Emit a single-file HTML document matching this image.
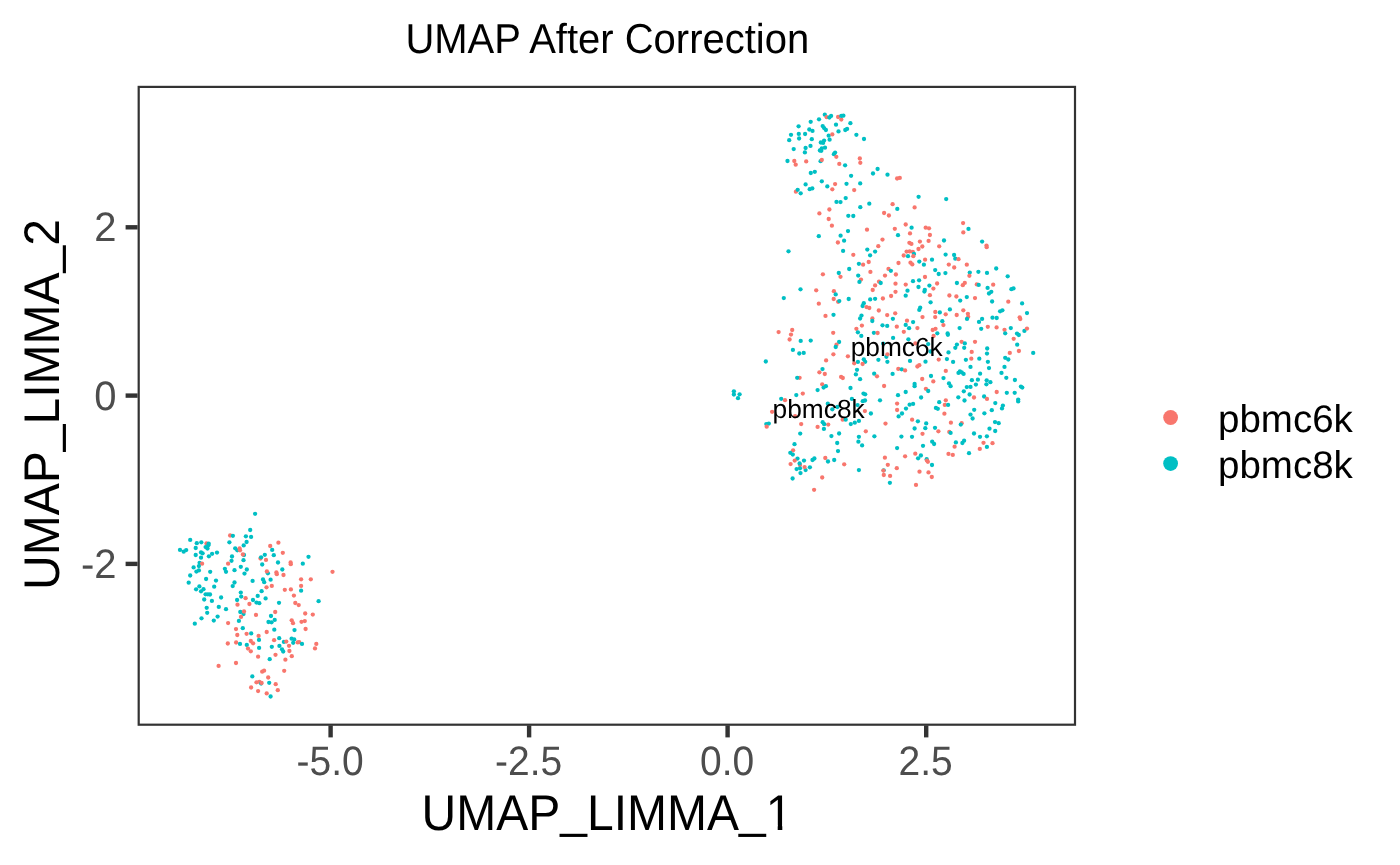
<!DOCTYPE html>
<html><head><meta charset="utf-8"><title>UMAP After Correction</title>
<style>
html,body{margin:0;padding:0;background:#fff;width:1400px;height:865px;overflow:hidden}
svg{display:block;will-change:transform}
text{font-family:"Liberation Sans",Arial,Helvetica,sans-serif}
.tk{fill:#4D4D4D;font-size:40px}
svg{text-rendering:geometricPrecision}
</style></head><body>
<svg width="1400" height="865" viewBox="0 0 1400 865">
<rect width="1400" height="865" fill="#fff"/>
<text transform="translate(607.3,52.9) scale(1,1.044)" font-size="40" text-anchor="middle" fill="#000">UMAP After Correction</text>
<g><circle cx="824.8" cy="114.7" r="2.15" fill="#00BFC4"/><circle cx="826.7" cy="117.2" r="2.15" fill="#F8766D"/><circle cx="829.4" cy="117.5" r="2.15" fill="#00BFC4"/><circle cx="819.0" cy="119.3" r="2.15" fill="#00BFC4"/><circle cx="810.7" cy="121.8" r="2.15" fill="#00BFC4"/><circle cx="798.6" cy="126.3" r="2.15" fill="#00BFC4"/><circle cx="822.7" cy="126.1" r="2.15" fill="#00BFC4"/><circle cx="824.1" cy="128.1" r="2.15" fill="#00BFC4"/><circle cx="825.9" cy="130.0" r="2.15" fill="#00BFC4"/><circle cx="809.3" cy="129.5" r="2.15" fill="#00BFC4"/><circle cx="812.5" cy="130.9" r="2.15" fill="#00BFC4"/><circle cx="791.0" cy="134.8" r="2.15" fill="#00BFC4"/><circle cx="798.8" cy="133.9" r="2.15" fill="#00BFC4"/><circle cx="805.1" cy="134.0" r="2.15" fill="#00BFC4"/><circle cx="828.7" cy="135.7" r="2.15" fill="#00BFC4"/><circle cx="789.2" cy="140.2" r="2.15" fill="#00BFC4"/><circle cx="799.1" cy="138.5" r="2.15" fill="#00BFC4"/><circle cx="811.8" cy="139.2" r="2.15" fill="#00BFC4"/><circle cx="829.6" cy="139.7" r="2.15" fill="#00BFC4"/><circle cx="824.1" cy="140.6" r="2.15" fill="#00BFC4"/><circle cx="820.8" cy="142.5" r="2.15" fill="#00BFC4"/><circle cx="823.1" cy="142.9" r="2.15" fill="#00BFC4"/><circle cx="810.5" cy="145.9" r="2.15" fill="#00BFC4"/><circle cx="793.7" cy="149.1" r="2.15" fill="#00BFC4"/><circle cx="805.6" cy="148.0" r="2.15" fill="#00BFC4"/><circle cx="804.9" cy="152.4" r="2.15" fill="#00BFC4"/><circle cx="825.0" cy="147.7" r="2.15" fill="#00BFC4"/><circle cx="821.8" cy="148.3" r="2.15" fill="#00BFC4"/><circle cx="819.9" cy="150.5" r="2.15" fill="#00BFC4"/><circle cx="821.3" cy="150.8" r="2.15" fill="#00BFC4"/><circle cx="787.5" cy="161.0" r="2.15" fill="#00BFC4"/><circle cx="794.3" cy="161.0" r="2.15" fill="#F8766D"/><circle cx="795.7" cy="164.7" r="2.15" fill="#F8766D"/><circle cx="806.2" cy="161.4" r="2.15" fill="#F8766D"/><circle cx="820.6" cy="161.2" r="2.15" fill="#00BFC4"/><circle cx="821.8" cy="160.0" r="2.15" fill="#F8766D"/><circle cx="810.8" cy="173.0" r="2.15" fill="#00BFC4"/><circle cx="814.8" cy="171.8" r="2.15" fill="#00BFC4"/><circle cx="821.8" cy="181.3" r="2.15" fill="#00BFC4"/><circle cx="805.6" cy="184.4" r="2.15" fill="#00BFC4"/><circle cx="831.1" cy="115.9" r="2.15" fill="#00BFC4"/><circle cx="838.1" cy="117.0" r="2.15" fill="#F8766D"/><circle cx="841.3" cy="119.6" r="2.15" fill="#F8766D"/><circle cx="841.3" cy="115.9" r="2.15" fill="#00BFC4"/><circle cx="843.4" cy="115.7" r="2.15" fill="#00BFC4"/><circle cx="850.4" cy="123.2" r="2.15" fill="#00BFC4"/><circle cx="836.0" cy="124.7" r="2.15" fill="#00BFC4"/><circle cx="838.5" cy="131.4" r="2.15" fill="#00BFC4"/><circle cx="845.3" cy="130.0" r="2.15" fill="#00BFC4"/><circle cx="847.1" cy="128.9" r="2.15" fill="#00BFC4"/><circle cx="832.3" cy="134.4" r="2.15" fill="#F8766D"/><circle cx="856.4" cy="134.8" r="2.15" fill="#00BFC4"/><circle cx="864.0" cy="139.0" r="2.15" fill="#00BFC4"/><circle cx="835.1" cy="152.6" r="2.15" fill="#00BFC4"/><circle cx="833.9" cy="154.2" r="2.15" fill="#00BFC4"/><circle cx="836.3" cy="156.8" r="2.15" fill="#F8766D"/><circle cx="859.8" cy="158.5" r="2.15" fill="#F8766D"/><circle cx="860.3" cy="162.8" r="2.15" fill="#F8766D"/><circle cx="839.3" cy="163.9" r="2.15" fill="#F8766D"/><circle cx="845.1" cy="165.3" r="2.15" fill="#00BFC4"/><circle cx="851.1" cy="175.8" r="2.15" fill="#00BFC4"/><circle cx="873.0" cy="173.5" r="2.15" fill="#00BFC4"/><circle cx="877.6" cy="169.0" r="2.15" fill="#00BFC4"/><circle cx="887.5" cy="174.7" r="2.15" fill="#00BFC4"/><circle cx="897.1" cy="178.5" r="2.15" fill="#F8766D"/><circle cx="899.8" cy="177.9" r="2.15" fill="#F8766D"/><circle cx="835.1" cy="184.1" r="2.15" fill="#F8766D"/><circle cx="846.5" cy="183.8" r="2.15" fill="#00BFC4"/><circle cx="860.2" cy="183.4" r="2.15" fill="#00BFC4"/><circle cx="827.3" cy="186.4" r="2.15" fill="#00BFC4"/><circle cx="795.9" cy="191.7" r="2.15" fill="#F8766D"/><circle cx="797.7" cy="189.8" r="2.15" fill="#00BFC4"/><circle cx="800.7" cy="193.3" r="2.15" fill="#00BFC4"/><circle cx="809.7" cy="189.2" r="2.15" fill="#00BFC4"/><circle cx="812.3" cy="188.4" r="2.15" fill="#00BFC4"/><circle cx="819.4" cy="213.4" r="2.15" fill="#F8766D"/><circle cx="829.4" cy="209.5" r="2.15" fill="#F8766D"/><circle cx="828.7" cy="219.0" r="2.15" fill="#F8766D"/><circle cx="818.8" cy="236.2" r="2.15" fill="#00BFC4"/><circle cx="788.5" cy="251.3" r="2.15" fill="#00BFC4"/><circle cx="832.3" cy="189.3" r="2.15" fill="#F8766D"/><circle cx="854.2" cy="190.1" r="2.15" fill="#F8766D"/><circle cx="845.7" cy="198.1" r="2.15" fill="#00BFC4"/><circle cx="836.5" cy="201.9" r="2.15" fill="#00BFC4"/><circle cx="840.5" cy="202.1" r="2.15" fill="#00BFC4"/><circle cx="869.3" cy="203.7" r="2.15" fill="#00BFC4"/><circle cx="860.3" cy="207.2" r="2.15" fill="#00BFC4"/><circle cx="848.3" cy="215.8" r="2.15" fill="#00BFC4"/><circle cx="853.3" cy="216.0" r="2.15" fill="#00BFC4"/><circle cx="831.9" cy="225.7" r="2.15" fill="#F8766D"/><circle cx="892.6" cy="204.2" r="2.15" fill="#F8766D"/><circle cx="897.3" cy="208.9" r="2.15" fill="#00BFC4"/><circle cx="884.1" cy="213.0" r="2.15" fill="#F8766D"/><circle cx="888.9" cy="215.5" r="2.15" fill="#F8766D"/><circle cx="918.6" cy="196.8" r="2.15" fill="#00BFC4"/><circle cx="914.6" cy="207.4" r="2.15" fill="#F8766D"/><circle cx="905.7" cy="224.5" r="2.15" fill="#F8766D"/><circle cx="911.6" cy="227.7" r="2.15" fill="#00BFC4"/><circle cx="894.8" cy="228.8" r="2.15" fill="#F8766D"/><circle cx="867.0" cy="229.7" r="2.15" fill="#F8766D"/><circle cx="848.0" cy="231.1" r="2.15" fill="#00BFC4"/><circle cx="925.7" cy="227.7" r="2.15" fill="#F8766D"/><circle cx="929.0" cy="228.3" r="2.15" fill="#F8766D"/><circle cx="910.0" cy="233.4" r="2.15" fill="#F8766D"/><circle cx="898.0" cy="235.2" r="2.15" fill="#00BFC4"/><circle cx="929.9" cy="235.0" r="2.15" fill="#F8766D"/><circle cx="840.6" cy="235.7" r="2.15" fill="#00BFC4"/><circle cx="844.1" cy="240.7" r="2.15" fill="#00BFC4"/><circle cx="837.9" cy="242.5" r="2.15" fill="#F8766D"/><circle cx="882.5" cy="239.6" r="2.15" fill="#F8766D"/><circle cx="909.4" cy="242.8" r="2.15" fill="#F8766D"/><circle cx="911.4" cy="243.9" r="2.15" fill="#F8766D"/><circle cx="919.9" cy="241.6" r="2.15" fill="#F8766D"/><circle cx="928.6" cy="240.9" r="2.15" fill="#F8766D"/><circle cx="939.2" cy="246.3" r="2.15" fill="#F8766D"/><circle cx="878.3" cy="246.2" r="2.15" fill="#F8766D"/><circle cx="922.3" cy="246.5" r="2.15" fill="#F8766D"/><circle cx="918.5" cy="249.0" r="2.15" fill="#F8766D"/><circle cx="843.1" cy="250.9" r="2.15" fill="#00BFC4"/><circle cx="867.3" cy="249.6" r="2.15" fill="#00BFC4"/><circle cx="875.1" cy="251.6" r="2.15" fill="#00BFC4"/><circle cx="870.1" cy="255.3" r="2.15" fill="#00BFC4"/><circle cx="853.3" cy="254.8" r="2.15" fill="#F8766D"/><circle cx="906.6" cy="251.6" r="2.15" fill="#F8766D"/><circle cx="909.7" cy="251.4" r="2.15" fill="#F8766D"/><circle cx="912.8" cy="251.8" r="2.15" fill="#F8766D"/><circle cx="914.0" cy="253.9" r="2.15" fill="#00BFC4"/><circle cx="903.7" cy="255.5" r="2.15" fill="#F8766D"/><circle cx="908.0" cy="256.2" r="2.15" fill="#00BFC4"/><circle cx="913.3" cy="256.2" r="2.15" fill="#F8766D"/><circle cx="925.1" cy="259.7" r="2.15" fill="#F8766D"/><circle cx="932.0" cy="259.7" r="2.15" fill="#00BFC4"/><circle cx="919.3" cy="261.6" r="2.15" fill="#00BFC4"/><circle cx="868.7" cy="262.0" r="2.15" fill="#F8766D"/><circle cx="858.9" cy="263.8" r="2.15" fill="#00BFC4"/><circle cx="863.1" cy="264.7" r="2.15" fill="#F8766D"/><circle cx="898.5" cy="263.0" r="2.15" fill="#F8766D"/><circle cx="910.5" cy="262.7" r="2.15" fill="#F8766D"/><circle cx="912.3" cy="264.4" r="2.15" fill="#F8766D"/><circle cx="923.9" cy="264.7" r="2.15" fill="#00BFC4"/><circle cx="946.2" cy="199.1" r="2.15" fill="#00BFC4"/><circle cx="963.1" cy="223.1" r="2.15" fill="#F8766D"/><circle cx="968.5" cy="228.9" r="2.15" fill="#00BFC4"/><circle cx="963.3" cy="232.4" r="2.15" fill="#F8766D"/><circle cx="944.0" cy="240.5" r="2.15" fill="#00BFC4"/><circle cx="982.1" cy="241.6" r="2.15" fill="#00BFC4"/><circle cx="986.5" cy="245.6" r="2.15" fill="#F8766D"/><circle cx="986.7" cy="247.2" r="2.15" fill="#F8766D"/><circle cx="945.6" cy="254.6" r="2.15" fill="#00BFC4"/><circle cx="954.1" cy="255.0" r="2.15" fill="#00BFC4"/><circle cx="955.3" cy="258.7" r="2.15" fill="#00BFC4"/><circle cx="958.5" cy="259.2" r="2.15" fill="#F8766D"/><circle cx="948.8" cy="264.6" r="2.15" fill="#F8766D"/><circle cx="966.8" cy="264.7" r="2.15" fill="#F8766D"/><circle cx="822.9" cy="274.3" r="2.15" fill="#F8766D"/><circle cx="800.5" cy="289.3" r="2.15" fill="#00BFC4"/><circle cx="816.2" cy="290.3" r="2.15" fill="#F8766D"/><circle cx="783.8" cy="298.1" r="2.15" fill="#00BFC4"/><circle cx="818.8" cy="303.7" r="2.15" fill="#F8766D"/><circle cx="825.5" cy="315.9" r="2.15" fill="#F8766D"/><circle cx="792.2" cy="330.0" r="2.15" fill="#F8766D"/><circle cx="778.6" cy="332.1" r="2.15" fill="#F8766D"/><circle cx="791.0" cy="334.6" r="2.15" fill="#F8766D"/><circle cx="789.6" cy="339.5" r="2.15" fill="#F8766D"/><circle cx="800.7" cy="340.9" r="2.15" fill="#00BFC4"/><circle cx="810.7" cy="340.6" r="2.15" fill="#00BFC4"/><circle cx="849.2" cy="269.0" r="2.15" fill="#00BFC4"/><circle cx="838.8" cy="273.0" r="2.15" fill="#00BFC4"/><circle cx="840.5" cy="276.8" r="2.15" fill="#F8766D"/><circle cx="858.2" cy="275.6" r="2.15" fill="#00BFC4"/><circle cx="861.0" cy="279.6" r="2.15" fill="#F8766D"/><circle cx="859.4" cy="281.9" r="2.15" fill="#00BFC4"/><circle cx="870.4" cy="271.9" r="2.15" fill="#F8766D"/><circle cx="888.5" cy="268.9" r="2.15" fill="#F8766D"/><circle cx="890.9" cy="270.8" r="2.15" fill="#00BFC4"/><circle cx="895.9" cy="274.5" r="2.15" fill="#F8766D"/><circle cx="885.0" cy="275.6" r="2.15" fill="#F8766D"/><circle cx="925.0" cy="277.0" r="2.15" fill="#F8766D"/><circle cx="935.2" cy="270.1" r="2.15" fill="#00BFC4"/><circle cx="938.7" cy="274.0" r="2.15" fill="#00BFC4"/><circle cx="913.0" cy="281.2" r="2.15" fill="#00BFC4"/><circle cx="919.1" cy="280.3" r="2.15" fill="#00BFC4"/><circle cx="879.0" cy="281.7" r="2.15" fill="#F8766D"/><circle cx="880.7" cy="283.0" r="2.15" fill="#00BFC4"/><circle cx="875.1" cy="285.4" r="2.15" fill="#F8766D"/><circle cx="895.5" cy="283.7" r="2.15" fill="#F8766D"/><circle cx="905.7" cy="284.6" r="2.15" fill="#F8766D"/><circle cx="937.1" cy="283.5" r="2.15" fill="#F8766D"/><circle cx="918.5" cy="287.0" r="2.15" fill="#00BFC4"/><circle cx="929.4" cy="285.6" r="2.15" fill="#00BFC4"/><circle cx="933.4" cy="288.6" r="2.15" fill="#F8766D"/><circle cx="924.8" cy="289.8" r="2.15" fill="#00BFC4"/><circle cx="924.4" cy="291.6" r="2.15" fill="#00BFC4"/><circle cx="872.7" cy="290.0" r="2.15" fill="#F8766D"/><circle cx="833.9" cy="291.2" r="2.15" fill="#F8766D"/><circle cx="835.7" cy="294.4" r="2.15" fill="#00BFC4"/><circle cx="895.5" cy="291.8" r="2.15" fill="#F8766D"/><circle cx="907.5" cy="290.7" r="2.15" fill="#00BFC4"/><circle cx="905.7" cy="295.7" r="2.15" fill="#00BFC4"/><circle cx="929.9" cy="295.2" r="2.15" fill="#F8766D"/><circle cx="891.1" cy="296.0" r="2.15" fill="#F8766D"/><circle cx="833.7" cy="299.0" r="2.15" fill="#F8766D"/><circle cx="838.1" cy="301.8" r="2.15" fill="#F8766D"/><circle cx="839.3" cy="301.1" r="2.15" fill="#00BFC4"/><circle cx="848.7" cy="299.0" r="2.15" fill="#00BFC4"/><circle cx="870.2" cy="299.4" r="2.15" fill="#00BFC4"/><circle cx="875.1" cy="298.8" r="2.15" fill="#00BFC4"/><circle cx="882.9" cy="298.5" r="2.15" fill="#F8766D"/><circle cx="930.6" cy="302.3" r="2.15" fill="#00BFC4"/><circle cx="863.8" cy="303.2" r="2.15" fill="#00BFC4"/><circle cx="862.6" cy="306.0" r="2.15" fill="#00BFC4"/><circle cx="866.5" cy="307.1" r="2.15" fill="#F8766D"/><circle cx="869.3" cy="308.0" r="2.15" fill="#F8766D"/><circle cx="920.2" cy="307.7" r="2.15" fill="#00BFC4"/><circle cx="919.3" cy="309.9" r="2.15" fill="#00BFC4"/><circle cx="878.8" cy="310.5" r="2.15" fill="#F8766D"/><circle cx="833.5" cy="314.8" r="2.15" fill="#00BFC4"/><circle cx="861.5" cy="315.6" r="2.15" fill="#00BFC4"/><circle cx="860.1" cy="318.5" r="2.15" fill="#00BFC4"/><circle cx="895.2" cy="313.3" r="2.15" fill="#F8766D"/><circle cx="887.2" cy="315.1" r="2.15" fill="#F8766D"/><circle cx="935.3" cy="312.0" r="2.15" fill="#F8766D"/><circle cx="922.5" cy="317.1" r="2.15" fill="#F8766D"/><circle cx="935.2" cy="317.1" r="2.15" fill="#F8766D"/><circle cx="939.8" cy="312.4" r="2.15" fill="#00BFC4"/><circle cx="872.4" cy="318.5" r="2.15" fill="#F8766D"/><circle cx="872.3" cy="321.0" r="2.15" fill="#00BFC4"/><circle cx="892.9" cy="318.8" r="2.15" fill="#00BFC4"/><circle cx="907.0" cy="320.7" r="2.15" fill="#F8766D"/><circle cx="913.1" cy="322.1" r="2.15" fill="#00BFC4"/><circle cx="905.7" cy="324.9" r="2.15" fill="#00BFC4"/><circle cx="909.1" cy="328.2" r="2.15" fill="#00BFC4"/><circle cx="861.9" cy="325.6" r="2.15" fill="#F8766D"/><circle cx="882.5" cy="325.3" r="2.15" fill="#00BFC4"/><circle cx="887.2" cy="325.9" r="2.15" fill="#00BFC4"/><circle cx="896.8" cy="326.7" r="2.15" fill="#F8766D"/><circle cx="856.4" cy="328.8" r="2.15" fill="#F8766D"/><circle cx="917.4" cy="328.1" r="2.15" fill="#F8766D"/><circle cx="932.7" cy="330.0" r="2.15" fill="#F8766D"/><circle cx="935.5" cy="328.8" r="2.15" fill="#F8766D"/><circle cx="857.9" cy="332.3" r="2.15" fill="#00BFC4"/><circle cx="861.3" cy="335.9" r="2.15" fill="#00BFC4"/><circle cx="873.9" cy="332.8" r="2.15" fill="#00BFC4"/><circle cx="877.6" cy="333.0" r="2.15" fill="#F8766D"/><circle cx="833.2" cy="332.8" r="2.15" fill="#F8766D"/><circle cx="903.8" cy="331.8" r="2.15" fill="#F8766D"/><circle cx="937.3" cy="333.3" r="2.15" fill="#00BFC4"/><circle cx="933.6" cy="336.0" r="2.15" fill="#F8766D"/><circle cx="893.1" cy="337.9" r="2.15" fill="#00BFC4"/><circle cx="908.4" cy="339.3" r="2.15" fill="#00BFC4"/><circle cx="839.1" cy="342.0" r="2.15" fill="#00BFC4"/><circle cx="836.5" cy="344.7" r="2.15" fill="#F8766D"/><circle cx="883.2" cy="343.6" r="2.15" fill="#00BFC4"/><circle cx="915.3" cy="343.4" r="2.15" fill="#F8766D"/><circle cx="928.2" cy="344.1" r="2.15" fill="#00BFC4"/><circle cx="954.2" cy="267.5" r="2.15" fill="#F8766D"/><circle cx="945.4" cy="273.1" r="2.15" fill="#00BFC4"/><circle cx="969.8" cy="272.6" r="2.15" fill="#00BFC4"/><circle cx="969.4" cy="275.8" r="2.15" fill="#F8766D"/><circle cx="978.4" cy="271.8" r="2.15" fill="#00BFC4"/><circle cx="987.0" cy="272.9" r="2.15" fill="#00BFC4"/><circle cx="996.2" cy="268.5" r="2.15" fill="#00BFC4"/><circle cx="1007.7" cy="276.3" r="2.15" fill="#00BFC4"/><circle cx="956.9" cy="283.0" r="2.15" fill="#00BFC4"/><circle cx="964.8" cy="282.9" r="2.15" fill="#F8766D"/><circle cx="962.8" cy="285.2" r="2.15" fill="#F8766D"/><circle cx="976.8" cy="284.4" r="2.15" fill="#F8766D"/><circle cx="978.7" cy="284.9" r="2.15" fill="#00BFC4"/><circle cx="993.2" cy="284.7" r="2.15" fill="#F8766D"/><circle cx="987.6" cy="287.9" r="2.15" fill="#00BFC4"/><circle cx="991.3" cy="291.8" r="2.15" fill="#00BFC4"/><circle cx="989.0" cy="293.5" r="2.15" fill="#00BFC4"/><circle cx="1011.4" cy="289.2" r="2.15" fill="#00BFC4"/><circle cx="1013.5" cy="288.4" r="2.15" fill="#00BFC4"/><circle cx="949.4" cy="295.5" r="2.15" fill="#F8766D"/><circle cx="956.4" cy="296.5" r="2.15" fill="#F8766D"/><circle cx="966.8" cy="297.1" r="2.15" fill="#00BFC4"/><circle cx="960.2" cy="300.6" r="2.15" fill="#00BFC4"/><circle cx="975.0" cy="298.1" r="2.15" fill="#F8766D"/><circle cx="992.1" cy="301.5" r="2.15" fill="#00BFC4"/><circle cx="1008.3" cy="301.7" r="2.15" fill="#F8766D"/><circle cx="1022.1" cy="303.4" r="2.15" fill="#00BFC4"/><circle cx="949.9" cy="309.4" r="2.15" fill="#00BFC4"/><circle cx="945.7" cy="314.3" r="2.15" fill="#F8766D"/><circle cx="963.3" cy="310.3" r="2.15" fill="#F8766D"/><circle cx="956.7" cy="315.0" r="2.15" fill="#F8766D"/><circle cx="967.9" cy="313.8" r="2.15" fill="#F8766D"/><circle cx="968.2" cy="316.8" r="2.15" fill="#F8766D"/><circle cx="967.0" cy="318.9" r="2.15" fill="#00BFC4"/><circle cx="982.1" cy="318.9" r="2.15" fill="#00BFC4"/><circle cx="979.0" cy="321.9" r="2.15" fill="#00BFC4"/><circle cx="1000.1" cy="311.3" r="2.15" fill="#00BFC4"/><circle cx="1002.4" cy="310.3" r="2.15" fill="#00BFC4"/><circle cx="992.5" cy="317.7" r="2.15" fill="#00BFC4"/><circle cx="996.7" cy="318.0" r="2.15" fill="#00BFC4"/><circle cx="1019.7" cy="317.3" r="2.15" fill="#F8766D"/><circle cx="1020.3" cy="319.1" r="2.15" fill="#F8766D"/><circle cx="1027.0" cy="313.1" r="2.15" fill="#00BFC4"/><circle cx="942.3" cy="321.2" r="2.15" fill="#00BFC4"/><circle cx="943.4" cy="325.1" r="2.15" fill="#F8766D"/><circle cx="959.6" cy="328.1" r="2.15" fill="#00BFC4"/><circle cx="981.2" cy="328.8" r="2.15" fill="#00BFC4"/><circle cx="987.8" cy="326.8" r="2.15" fill="#F8766D"/><circle cx="996.6" cy="327.4" r="2.15" fill="#F8766D"/><circle cx="1004.5" cy="329.8" r="2.15" fill="#F8766D"/><circle cx="1005.2" cy="333.3" r="2.15" fill="#00BFC4"/><circle cx="1010.8" cy="328.1" r="2.15" fill="#00BFC4"/><circle cx="1024.4" cy="330.9" r="2.15" fill="#00BFC4"/><circle cx="1027.0" cy="328.6" r="2.15" fill="#F8766D"/><circle cx="1017.0" cy="333.6" r="2.15" fill="#00BFC4"/><circle cx="1018.8" cy="335.0" r="2.15" fill="#00BFC4"/><circle cx="1013.7" cy="338.8" r="2.15" fill="#F8766D"/><circle cx="947.6" cy="333.5" r="2.15" fill="#00BFC4"/><circle cx="947.9" cy="334.8" r="2.15" fill="#00BFC4"/><circle cx="961.6" cy="341.8" r="2.15" fill="#F8766D"/><circle cx="964.8" cy="343.4" r="2.15" fill="#00BFC4"/><circle cx="975.0" cy="341.8" r="2.15" fill="#F8766D"/><circle cx="956.9" cy="344.6" r="2.15" fill="#00BFC4"/><circle cx="1017.2" cy="344.7" r="2.15" fill="#00BFC4"/><circle cx="792.9" cy="349.9" r="2.15" fill="#00BFC4"/><circle cx="799.3" cy="353.5" r="2.15" fill="#00BFC4"/><circle cx="803.7" cy="352.9" r="2.15" fill="#00BFC4"/><circle cx="765.8" cy="361.5" r="2.15" fill="#00BFC4"/><circle cx="826.1" cy="360.4" r="2.15" fill="#F8766D"/><circle cx="822.5" cy="369.1" r="2.15" fill="#00BFC4"/><circle cx="819.4" cy="372.3" r="2.15" fill="#F8766D"/><circle cx="824.8" cy="374.0" r="2.15" fill="#F8766D"/><circle cx="799.6" cy="377.8" r="2.15" fill="#F8766D"/><circle cx="797.2" cy="377.8" r="2.15" fill="#00BFC4"/><circle cx="822.2" cy="384.3" r="2.15" fill="#F8766D"/><circle cx="825.9" cy="386.2" r="2.15" fill="#00BFC4"/><circle cx="823.6" cy="387.6" r="2.15" fill="#00BFC4"/><circle cx="817.6" cy="390.1" r="2.15" fill="#00BFC4"/><circle cx="733.9" cy="391.3" r="2.15" fill="#00BFC4"/><circle cx="733.9" cy="394.5" r="2.15" fill="#00BFC4"/><circle cx="739.6" cy="394.3" r="2.15" fill="#00BFC4"/><circle cx="738.0" cy="398.2" r="2.15" fill="#00BFC4"/><circle cx="796.3" cy="395.1" r="2.15" fill="#00BFC4"/><circle cx="802.8" cy="393.6" r="2.15" fill="#F8766D"/><circle cx="781.2" cy="398.8" r="2.15" fill="#00BFC4"/><circle cx="785.0" cy="400.2" r="2.15" fill="#F8766D"/><circle cx="827.8" cy="403.7" r="2.15" fill="#00BFC4"/><circle cx="772.1" cy="411.8" r="2.15" fill="#F8766D"/><circle cx="795.1" cy="416.2" r="2.15" fill="#F8766D"/><circle cx="766.3" cy="424.1" r="2.15" fill="#00BFC4"/><circle cx="768.8" cy="423.6" r="2.15" fill="#00BFC4"/><circle cx="822.7" cy="422.2" r="2.15" fill="#00BFC4"/><circle cx="801.2" cy="424.1" r="2.15" fill="#F8766D"/><circle cx="828.2" cy="424.6" r="2.15" fill="#F8766D"/><circle cx="835.7" cy="347.0" r="2.15" fill="#00BFC4"/><circle cx="833.4" cy="354.3" r="2.15" fill="#F8766D"/><circle cx="847.9" cy="356.3" r="2.15" fill="#F8766D"/><circle cx="886.4" cy="356.8" r="2.15" fill="#00BFC4"/><circle cx="887.4" cy="354.3" r="2.15" fill="#F8766D"/><circle cx="878.4" cy="359.8" r="2.15" fill="#00BFC4"/><circle cx="887.4" cy="361.8" r="2.15" fill="#00BFC4"/><circle cx="863.8" cy="359.3" r="2.15" fill="#00BFC4"/><circle cx="865.2" cy="361.8" r="2.15" fill="#00BFC4"/><circle cx="857.9" cy="361.9" r="2.15" fill="#00BFC4"/><circle cx="854.2" cy="363.3" r="2.15" fill="#F8766D"/><circle cx="862.6" cy="364.0" r="2.15" fill="#F8766D"/><circle cx="910.0" cy="360.9" r="2.15" fill="#00BFC4"/><circle cx="925.5" cy="361.7" r="2.15" fill="#00BFC4"/><circle cx="938.7" cy="359.6" r="2.15" fill="#F8766D"/><circle cx="917.4" cy="366.5" r="2.15" fill="#F8766D"/><circle cx="919.3" cy="365.2" r="2.15" fill="#F8766D"/><circle cx="898.3" cy="368.9" r="2.15" fill="#F8766D"/><circle cx="901.7" cy="369.3" r="2.15" fill="#00BFC4"/><circle cx="905.1" cy="370.4" r="2.15" fill="#F8766D"/><circle cx="857.0" cy="369.8" r="2.15" fill="#00BFC4"/><circle cx="855.9" cy="374.4" r="2.15" fill="#00BFC4"/><circle cx="841.1" cy="376.9" r="2.15" fill="#F8766D"/><circle cx="842.8" cy="378.0" r="2.15" fill="#F8766D"/><circle cx="874.2" cy="373.7" r="2.15" fill="#00BFC4"/><circle cx="877.0" cy="376.3" r="2.15" fill="#F8766D"/><circle cx="892.6" cy="373.9" r="2.15" fill="#00BFC4"/><circle cx="860.1" cy="379.2" r="2.15" fill="#00BFC4"/><circle cx="931.0" cy="376.0" r="2.15" fill="#00BFC4"/><circle cx="922.2" cy="379.0" r="2.15" fill="#F8766D"/><circle cx="933.3" cy="381.4" r="2.15" fill="#F8766D"/><circle cx="884.1" cy="386.0" r="2.15" fill="#F8766D"/><circle cx="914.6" cy="383.9" r="2.15" fill="#00BFC4"/><circle cx="914.6" cy="386.2" r="2.15" fill="#00BFC4"/><circle cx="850.5" cy="388.0" r="2.15" fill="#00BFC4"/><circle cx="925.9" cy="388.8" r="2.15" fill="#F8766D"/><circle cx="928.2" cy="391.0" r="2.15" fill="#00BFC4"/><circle cx="905.7" cy="392.0" r="2.15" fill="#00BFC4"/><circle cx="898.0" cy="395.2" r="2.15" fill="#00BFC4"/><circle cx="863.5" cy="393.6" r="2.15" fill="#00BFC4"/><circle cx="865.2" cy="394.3" r="2.15" fill="#00BFC4"/><circle cx="921.1" cy="397.5" r="2.15" fill="#00BFC4"/><circle cx="851.9" cy="398.9" r="2.15" fill="#00BFC4"/><circle cx="880.0" cy="400.3" r="2.15" fill="#00BFC4"/><circle cx="862.8" cy="401.2" r="2.15" fill="#00BFC4"/><circle cx="865.0" cy="400.5" r="2.15" fill="#00BFC4"/><circle cx="939.2" cy="402.2" r="2.15" fill="#00BFC4"/><circle cx="857.6" cy="405.1" r="2.15" fill="#00BFC4"/><circle cx="897.1" cy="403.6" r="2.15" fill="#F8766D"/><circle cx="909.6" cy="404.7" r="2.15" fill="#00BFC4"/><circle cx="913.1" cy="403.9" r="2.15" fill="#00BFC4"/><circle cx="906.0" cy="408.6" r="2.15" fill="#00BFC4"/><circle cx="935.9" cy="407.9" r="2.15" fill="#00BFC4"/><circle cx="937.8" cy="408.8" r="2.15" fill="#00BFC4"/><circle cx="837.4" cy="407.0" r="2.15" fill="#00BFC4"/><circle cx="832.3" cy="409.3" r="2.15" fill="#00BFC4"/><circle cx="897.1" cy="410.0" r="2.15" fill="#F8766D"/><circle cx="864.9" cy="411.1" r="2.15" fill="#F8766D"/><circle cx="870.9" cy="413.5" r="2.15" fill="#00BFC4"/><circle cx="902.0" cy="413.5" r="2.15" fill="#00BFC4"/><circle cx="898.6" cy="416.4" r="2.15" fill="#00BFC4"/><circle cx="842.7" cy="419.7" r="2.15" fill="#F8766D"/><circle cx="845.7" cy="419.7" r="2.15" fill="#00BFC4"/><circle cx="912.1" cy="419.7" r="2.15" fill="#F8766D"/><circle cx="917.9" cy="421.3" r="2.15" fill="#00BFC4"/><circle cx="858.9" cy="420.9" r="2.15" fill="#00BFC4"/><circle cx="854.8" cy="422.7" r="2.15" fill="#00BFC4"/><circle cx="850.8" cy="424.1" r="2.15" fill="#00BFC4"/><circle cx="885.5" cy="423.6" r="2.15" fill="#F8766D"/><circle cx="926.2" cy="423.4" r="2.15" fill="#00BFC4"/><circle cx="955.3" cy="347.8" r="2.15" fill="#00BFC4"/><circle cx="964.2" cy="347.8" r="2.15" fill="#00BFC4"/><circle cx="987.2" cy="348.5" r="2.15" fill="#00BFC4"/><circle cx="987.0" cy="353.6" r="2.15" fill="#00BFC4"/><circle cx="971.7" cy="351.9" r="2.15" fill="#F8766D"/><circle cx="948.5" cy="352.4" r="2.15" fill="#00BFC4"/><circle cx="1009.8" cy="352.9" r="2.15" fill="#F8766D"/><circle cx="1018.9" cy="351.0" r="2.15" fill="#F8766D"/><circle cx="1033.2" cy="352.9" r="2.15" fill="#00BFC4"/><circle cx="946.9" cy="359.1" r="2.15" fill="#00BFC4"/><circle cx="953.1" cy="361.9" r="2.15" fill="#00BFC4"/><circle cx="965.9" cy="359.8" r="2.15" fill="#00BFC4"/><circle cx="971.3" cy="358.7" r="2.15" fill="#F8766D"/><circle cx="979.3" cy="358.7" r="2.15" fill="#00BFC4"/><circle cx="987.9" cy="361.8" r="2.15" fill="#00BFC4"/><circle cx="1005.2" cy="357.8" r="2.15" fill="#00BFC4"/><circle cx="1008.3" cy="359.5" r="2.15" fill="#00BFC4"/><circle cx="970.5" cy="366.9" r="2.15" fill="#00BFC4"/><circle cx="989.0" cy="368.1" r="2.15" fill="#00BFC4"/><circle cx="1004.5" cy="366.9" r="2.15" fill="#00BFC4"/><circle cx="945.8" cy="370.9" r="2.15" fill="#F8766D"/><circle cx="959.9" cy="371.4" r="2.15" fill="#00BFC4"/><circle cx="958.5" cy="372.9" r="2.15" fill="#00BFC4"/><circle cx="963.6" cy="373.9" r="2.15" fill="#00BFC4"/><circle cx="961.7" cy="372.3" r="2.15" fill="#00BFC4"/><circle cx="980.1" cy="373.7" r="2.15" fill="#00BFC4"/><circle cx="1001.5" cy="372.9" r="2.15" fill="#00BFC4"/><circle cx="943.5" cy="378.1" r="2.15" fill="#00BFC4"/><circle cx="1006.3" cy="377.8" r="2.15" fill="#00BFC4"/><circle cx="1014.9" cy="380.0" r="2.15" fill="#00BFC4"/><circle cx="971.9" cy="380.2" r="2.15" fill="#00BFC4"/><circle cx="977.9" cy="379.7" r="2.15" fill="#00BFC4"/><circle cx="986.7" cy="380.3" r="2.15" fill="#00BFC4"/><circle cx="990.4" cy="382.2" r="2.15" fill="#00BFC4"/><circle cx="986.4" cy="384.3" r="2.15" fill="#00BFC4"/><circle cx="949.0" cy="383.4" r="2.15" fill="#00BFC4"/><circle cx="950.6" cy="386.2" r="2.15" fill="#00BFC4"/><circle cx="975.9" cy="384.6" r="2.15" fill="#00BFC4"/><circle cx="966.8" cy="387.1" r="2.15" fill="#00BFC4"/><circle cx="970.5" cy="386.9" r="2.15" fill="#00BFC4"/><circle cx="1020.9" cy="386.6" r="2.15" fill="#00BFC4"/><circle cx="1022.3" cy="387.6" r="2.15" fill="#00BFC4"/><circle cx="963.8" cy="391.3" r="2.15" fill="#00BFC4"/><circle cx="996.7" cy="392.0" r="2.15" fill="#F8766D"/><circle cx="1006.8" cy="392.8" r="2.15" fill="#00BFC4"/><circle cx="1014.7" cy="392.8" r="2.15" fill="#00BFC4"/><circle cx="969.6" cy="394.5" r="2.15" fill="#00BFC4"/><circle cx="958.3" cy="397.3" r="2.15" fill="#00BFC4"/><circle cx="974.0" cy="397.5" r="2.15" fill="#F8766D"/><circle cx="984.1" cy="396.5" r="2.15" fill="#00BFC4"/><circle cx="987.0" cy="398.9" r="2.15" fill="#F8766D"/><circle cx="1018.2" cy="399.6" r="2.15" fill="#00BFC4"/><circle cx="1018.2" cy="401.4" r="2.15" fill="#00BFC4"/><circle cx="964.5" cy="400.5" r="2.15" fill="#00BFC4"/><circle cx="945.8" cy="400.3" r="2.15" fill="#F8766D"/><circle cx="944.8" cy="404.9" r="2.15" fill="#F8766D"/><circle cx="948.1" cy="404.9" r="2.15" fill="#00BFC4"/><circle cx="995.3" cy="403.1" r="2.15" fill="#00BFC4"/><circle cx="1002.9" cy="405.6" r="2.15" fill="#00BFC4"/><circle cx="1002.0" cy="408.4" r="2.15" fill="#00BFC4"/><circle cx="974.2" cy="409.8" r="2.15" fill="#00BFC4"/><circle cx="991.8" cy="410.2" r="2.15" fill="#00BFC4"/><circle cx="944.4" cy="413.7" r="2.15" fill="#F8766D"/><circle cx="984.4" cy="413.3" r="2.15" fill="#00BFC4"/><circle cx="970.5" cy="414.6" r="2.15" fill="#00BFC4"/><circle cx="972.6" cy="418.5" r="2.15" fill="#00BFC4"/><circle cx="950.9" cy="422.7" r="2.15" fill="#F8766D"/><circle cx="961.7" cy="423.2" r="2.15" fill="#F8766D"/><circle cx="960.8" cy="424.6" r="2.15" fill="#00BFC4"/><circle cx="995.0" cy="422.1" r="2.15" fill="#00BFC4"/><circle cx="998.7" cy="423.2" r="2.15" fill="#00BFC4"/><circle cx="766.7" cy="426.7" r="2.15" fill="#F8766D"/><circle cx="817.6" cy="426.9" r="2.15" fill="#F8766D"/><circle cx="823.9" cy="428.9" r="2.15" fill="#00BFC4"/><circle cx="800.2" cy="433.6" r="2.15" fill="#00BFC4"/><circle cx="794.5" cy="444.2" r="2.15" fill="#00BFC4"/><circle cx="793.1" cy="450.3" r="2.15" fill="#F8766D"/><circle cx="790.3" cy="452.8" r="2.15" fill="#00BFC4"/><circle cx="792.8" cy="454.6" r="2.15" fill="#00BFC4"/><circle cx="797.5" cy="458.6" r="2.15" fill="#00BFC4"/><circle cx="794.7" cy="460.6" r="2.15" fill="#F8766D"/><circle cx="790.6" cy="464.1" r="2.15" fill="#F8766D"/><circle cx="800.0" cy="465.0" r="2.15" fill="#F8766D"/><circle cx="799.6" cy="463.4" r="2.15" fill="#00BFC4"/><circle cx="804.0" cy="460.6" r="2.15" fill="#00BFC4"/><circle cx="812.5" cy="460.0" r="2.15" fill="#00BFC4"/><circle cx="814.4" cy="458.5" r="2.15" fill="#00BFC4"/><circle cx="825.3" cy="458.0" r="2.15" fill="#F8766D"/><circle cx="828.0" cy="461.5" r="2.15" fill="#00BFC4"/><circle cx="809.9" cy="467.3" r="2.15" fill="#00BFC4"/><circle cx="796.6" cy="469.1" r="2.15" fill="#00BFC4"/><circle cx="800.0" cy="468.3" r="2.15" fill="#00BFC4"/><circle cx="805.6" cy="470.1" r="2.15" fill="#00BFC4"/><circle cx="804.6" cy="467.1" r="2.15" fill="#F8766D"/><circle cx="800.5" cy="473.1" r="2.15" fill="#00BFC4"/><circle cx="792.6" cy="478.5" r="2.15" fill="#00BFC4"/><circle cx="822.2" cy="477.5" r="2.15" fill="#F8766D"/><circle cx="814.1" cy="489.8" r="2.15" fill="#F8766D"/><circle cx="914.6" cy="428.5" r="2.15" fill="#00BFC4"/><circle cx="925.3" cy="428.2" r="2.15" fill="#00BFC4"/><circle cx="935.0" cy="427.8" r="2.15" fill="#00BFC4"/><circle cx="938.4" cy="431.3" r="2.15" fill="#F8766D"/><circle cx="865.8" cy="431.3" r="2.15" fill="#F8766D"/><circle cx="839.1" cy="433.5" r="2.15" fill="#00BFC4"/><circle cx="831.4" cy="436.1" r="2.15" fill="#00BFC4"/><circle cx="858.9" cy="436.8" r="2.15" fill="#00BFC4"/><circle cx="874.4" cy="436.3" r="2.15" fill="#00BFC4"/><circle cx="901.4" cy="436.6" r="2.15" fill="#00BFC4"/><circle cx="912.0" cy="436.8" r="2.15" fill="#00BFC4"/><circle cx="922.5" cy="433.8" r="2.15" fill="#F8766D"/><circle cx="932.2" cy="441.7" r="2.15" fill="#00BFC4"/><circle cx="934.1" cy="444.0" r="2.15" fill="#00BFC4"/><circle cx="837.2" cy="443.0" r="2.15" fill="#00BFC4"/><circle cx="858.4" cy="441.7" r="2.15" fill="#00BFC4"/><circle cx="862.1" cy="445.4" r="2.15" fill="#00BFC4"/><circle cx="923.0" cy="445.8" r="2.15" fill="#00BFC4"/><circle cx="897.1" cy="448.1" r="2.15" fill="#00BFC4"/><circle cx="838.0" cy="451.1" r="2.15" fill="#00BFC4"/><circle cx="915.3" cy="453.7" r="2.15" fill="#F8766D"/><circle cx="905.1" cy="456.3" r="2.15" fill="#F8766D"/><circle cx="920.9" cy="455.5" r="2.15" fill="#00BFC4"/><circle cx="918.1" cy="458.3" r="2.15" fill="#00BFC4"/><circle cx="884.9" cy="457.7" r="2.15" fill="#F8766D"/><circle cx="926.7" cy="459.2" r="2.15" fill="#00BFC4"/><circle cx="926.9" cy="460.6" r="2.15" fill="#F8766D"/><circle cx="927.9" cy="461.8" r="2.15" fill="#F8766D"/><circle cx="932.0" cy="465.0" r="2.15" fill="#00BFC4"/><circle cx="834.2" cy="460.0" r="2.15" fill="#00BFC4"/><circle cx="844.2" cy="464.3" r="2.15" fill="#F8766D"/><circle cx="887.8" cy="464.8" r="2.15" fill="#F8766D"/><circle cx="896.8" cy="468.2" r="2.15" fill="#F8766D"/><circle cx="858.9" cy="470.1" r="2.15" fill="#00BFC4"/><circle cx="883.7" cy="470.3" r="2.15" fill="#00BFC4"/><circle cx="883.4" cy="470.6" r="2.15" fill="#F8766D"/><circle cx="883.8" cy="475.0" r="2.15" fill="#F8766D"/><circle cx="890.1" cy="475.9" r="2.15" fill="#F8766D"/><circle cx="919.5" cy="471.7" r="2.15" fill="#F8766D"/><circle cx="928.5" cy="472.4" r="2.15" fill="#F8766D"/><circle cx="931.8" cy="477.0" r="2.15" fill="#F8766D"/><circle cx="889.9" cy="482.8" r="2.15" fill="#00BFC4"/><circle cx="916.0" cy="484.9" r="2.15" fill="#F8766D"/><circle cx="949.3" cy="431.9" r="2.15" fill="#F8766D"/><circle cx="950.6" cy="432.9" r="2.15" fill="#00BFC4"/><circle cx="989.5" cy="428.7" r="2.15" fill="#00BFC4"/><circle cx="995.2" cy="431.0" r="2.15" fill="#00BFC4"/><circle cx="974.0" cy="433.5" r="2.15" fill="#00BFC4"/><circle cx="980.0" cy="436.8" r="2.15" fill="#00BFC4"/><circle cx="986.9" cy="436.3" r="2.15" fill="#00BFC4"/><circle cx="955.9" cy="442.4" r="2.15" fill="#00BFC4"/><circle cx="964.1" cy="440.7" r="2.15" fill="#00BFC4"/><circle cx="962.4" cy="443.0" r="2.15" fill="#00BFC4"/><circle cx="954.6" cy="446.7" r="2.15" fill="#F8766D"/><circle cx="983.5" cy="442.8" r="2.15" fill="#F8766D"/><circle cx="992.5" cy="443.2" r="2.15" fill="#F8766D"/><circle cx="986.9" cy="446.9" r="2.15" fill="#00BFC4"/><circle cx="979.8" cy="448.9" r="2.15" fill="#F8766D"/><circle cx="948.5" cy="453.9" r="2.15" fill="#F8766D"/><circle cx="952.8" cy="454.9" r="2.15" fill="#F8766D"/><circle cx="969.0" cy="453.2" r="2.15" fill="#00BFC4"/><circle cx="930.5" cy="351.5" r="2.15" fill="#00BFC4"/><circle cx="255.1" cy="513.8" r="2.15" fill="#00BFC4"/><circle cx="250.2" cy="530.0" r="2.15" fill="#00BFC4"/><circle cx="230.1" cy="535.5" r="2.15" fill="#F8766D"/><circle cx="232.9" cy="535.8" r="2.15" fill="#00BFC4"/><circle cx="245.9" cy="536.3" r="2.15" fill="#00BFC4"/><circle cx="251.1" cy="536.9" r="2.15" fill="#00BFC4"/><circle cx="229.4" cy="542.3" r="2.15" fill="#00BFC4"/><circle cx="246.6" cy="542.0" r="2.15" fill="#00BFC4"/><circle cx="243.7" cy="545.4" r="2.15" fill="#00BFC4"/><circle cx="190.2" cy="539.9" r="2.15" fill="#00BFC4"/><circle cx="196.8" cy="543.2" r="2.15" fill="#00BFC4"/><circle cx="201.3" cy="542.3" r="2.15" fill="#00BFC4"/><circle cx="206.5" cy="543.4" r="2.15" fill="#F8766D"/><circle cx="208.7" cy="543.7" r="2.15" fill="#00BFC4"/><circle cx="208.4" cy="545.2" r="2.15" fill="#00BFC4"/><circle cx="205.6" cy="547.1" r="2.15" fill="#00BFC4"/><circle cx="207.5" cy="548.5" r="2.15" fill="#00BFC4"/><circle cx="195.7" cy="548.0" r="2.15" fill="#00BFC4"/><circle cx="180.0" cy="549.9" r="2.15" fill="#00BFC4"/><circle cx="183.7" cy="551.7" r="2.15" fill="#00BFC4"/><circle cx="186.2" cy="550.1" r="2.15" fill="#00BFC4"/><circle cx="201.0" cy="552.4" r="2.15" fill="#00BFC4"/><circle cx="202.6" cy="553.3" r="2.15" fill="#00BFC4"/><circle cx="212.1" cy="553.8" r="2.15" fill="#00BFC4"/><circle cx="217.0" cy="552.6" r="2.15" fill="#00BFC4"/><circle cx="195.7" cy="555.0" r="2.15" fill="#00BFC4"/><circle cx="201.0" cy="557.7" r="2.15" fill="#00BFC4"/><circle cx="208.9" cy="556.3" r="2.15" fill="#00BFC4"/><circle cx="235.2" cy="548.3" r="2.15" fill="#00BFC4"/><circle cx="237.3" cy="550.3" r="2.15" fill="#00BFC4"/><circle cx="239.6" cy="548.5" r="2.15" fill="#F8766D"/><circle cx="240.0" cy="550.3" r="2.15" fill="#F8766D"/><circle cx="244.0" cy="555.0" r="2.15" fill="#00BFC4"/><circle cx="242.9" cy="554.5" r="2.15" fill="#F8766D"/><circle cx="232.0" cy="556.5" r="2.15" fill="#00BFC4"/><circle cx="231.5" cy="560.8" r="2.15" fill="#00BFC4"/><circle cx="228.1" cy="563.7" r="2.15" fill="#F8766D"/><circle cx="243.5" cy="560.2" r="2.15" fill="#00BFC4"/><circle cx="270.2" cy="546.0" r="2.15" fill="#F8766D"/><circle cx="278.4" cy="542.7" r="2.15" fill="#F8766D"/><circle cx="272.2" cy="549.9" r="2.15" fill="#00BFC4"/><circle cx="273.8" cy="555.2" r="2.15" fill="#00BFC4"/><circle cx="264.8" cy="554.8" r="2.15" fill="#00BFC4"/><circle cx="260.5" cy="558.5" r="2.15" fill="#F8766D"/><circle cx="261.1" cy="557.3" r="2.15" fill="#00BFC4"/><circle cx="266.0" cy="559.9" r="2.15" fill="#F8766D"/><circle cx="278.0" cy="562.5" r="2.15" fill="#00BFC4"/><circle cx="262.2" cy="564.5" r="2.15" fill="#00BFC4"/><circle cx="199.6" cy="562.8" r="2.15" fill="#00BFC4"/><circle cx="202.1" cy="563.7" r="2.15" fill="#F8766D"/><circle cx="198.9" cy="566.1" r="2.15" fill="#00BFC4"/><circle cx="193.6" cy="567.4" r="2.15" fill="#00BFC4"/><circle cx="196.4" cy="571.6" r="2.15" fill="#00BFC4"/><circle cx="198.9" cy="570.4" r="2.15" fill="#00BFC4"/><circle cx="210.2" cy="571.8" r="2.15" fill="#00BFC4"/><circle cx="224.9" cy="568.8" r="2.15" fill="#00BFC4"/><circle cx="226.0" cy="571.8" r="2.15" fill="#00BFC4"/><circle cx="234.5" cy="570.2" r="2.15" fill="#00BFC4"/><circle cx="240.8" cy="566.8" r="2.15" fill="#00BFC4"/><circle cx="246.8" cy="569.5" r="2.15" fill="#00BFC4"/><circle cx="244.5" cy="573.6" r="2.15" fill="#00BFC4"/><circle cx="267.9" cy="573.3" r="2.15" fill="#00BFC4"/><circle cx="266.9" cy="571.4" r="2.15" fill="#F8766D"/><circle cx="276.4" cy="572.5" r="2.15" fill="#F8766D"/><circle cx="276.8" cy="574.2" r="2.15" fill="#F8766D"/><circle cx="190.2" cy="575.5" r="2.15" fill="#00BFC4"/><circle cx="206.1" cy="579.0" r="2.15" fill="#00BFC4"/><circle cx="216.0" cy="580.6" r="2.15" fill="#00BFC4"/><circle cx="188.7" cy="582.7" r="2.15" fill="#00BFC4"/><circle cx="252.6" cy="580.9" r="2.15" fill="#00BFC4"/><circle cx="263.0" cy="579.5" r="2.15" fill="#00BFC4"/><circle cx="264.2" cy="582.2" r="2.15" fill="#00BFC4"/><circle cx="270.6" cy="579.7" r="2.15" fill="#00BFC4"/><circle cx="234.5" cy="582.5" r="2.15" fill="#00BFC4"/><circle cx="282.8" cy="552.8" r="2.15" fill="#F8766D"/><circle cx="308.5" cy="556.8" r="2.15" fill="#00BFC4"/><circle cx="290.6" cy="562.5" r="2.15" fill="#F8766D"/><circle cx="290.8" cy="564.2" r="2.15" fill="#F8766D"/><circle cx="302.8" cy="563.7" r="2.15" fill="#00BFC4"/><circle cx="282.3" cy="569.5" r="2.15" fill="#00BFC4"/><circle cx="283.5" cy="575.0" r="2.15" fill="#F8766D"/><circle cx="332.5" cy="571.8" r="2.15" fill="#F8766D"/><circle cx="301.1" cy="579.3" r="2.15" fill="#F8766D"/><circle cx="310.8" cy="579.3" r="2.15" fill="#F8766D"/><circle cx="199.4" cy="586.4" r="2.15" fill="#00BFC4"/><circle cx="214.2" cy="586.7" r="2.15" fill="#00BFC4"/><circle cx="232.7" cy="586.1" r="2.15" fill="#00BFC4"/><circle cx="266.5" cy="587.3" r="2.15" fill="#F8766D"/><circle cx="271.8" cy="585.9" r="2.15" fill="#F8766D"/><circle cx="196.1" cy="589.3" r="2.15" fill="#00BFC4"/><circle cx="201.0" cy="591.3" r="2.15" fill="#00BFC4"/><circle cx="203.5" cy="589.2" r="2.15" fill="#00BFC4"/><circle cx="205.6" cy="594.3" r="2.15" fill="#00BFC4"/><circle cx="207.9" cy="594.3" r="2.15" fill="#00BFC4"/><circle cx="210.0" cy="594.5" r="2.15" fill="#00BFC4"/><circle cx="204.2" cy="599.5" r="2.15" fill="#00BFC4"/><circle cx="211.9" cy="600.9" r="2.15" fill="#00BFC4"/><circle cx="221.1" cy="597.5" r="2.15" fill="#00BFC4"/><circle cx="240.8" cy="592.6" r="2.15" fill="#00BFC4"/><circle cx="241.2" cy="596.6" r="2.15" fill="#00BFC4"/><circle cx="237.1" cy="600.0" r="2.15" fill="#00BFC4"/><circle cx="245.6" cy="598.2" r="2.15" fill="#F8766D"/><circle cx="261.6" cy="591.2" r="2.15" fill="#00BFC4"/><circle cx="257.7" cy="595.9" r="2.15" fill="#00BFC4"/><circle cx="253.0" cy="600.0" r="2.15" fill="#00BFC4"/><circle cx="256.5" cy="602.6" r="2.15" fill="#00BFC4"/><circle cx="259.3" cy="603.2" r="2.15" fill="#00BFC4"/><circle cx="265.6" cy="598.4" r="2.15" fill="#00BFC4"/><circle cx="279.0" cy="602.8" r="2.15" fill="#00BFC4"/><circle cx="249.4" cy="604.0" r="2.15" fill="#F8766D"/><circle cx="237.5" cy="604.7" r="2.15" fill="#F8766D"/><circle cx="206.7" cy="607.8" r="2.15" fill="#00BFC4"/><circle cx="218.8" cy="606.9" r="2.15" fill="#00BFC4"/><circle cx="226.0" cy="609.2" r="2.15" fill="#00BFC4"/><circle cx="207.2" cy="612.8" r="2.15" fill="#00BFC4"/><circle cx="240.3" cy="612.0" r="2.15" fill="#00BFC4"/><circle cx="243.5" cy="614.1" r="2.15" fill="#00BFC4"/><circle cx="244.0" cy="611.5" r="2.15" fill="#F8766D"/><circle cx="241.0" cy="616.9" r="2.15" fill="#F8766D"/><circle cx="256.0" cy="614.9" r="2.15" fill="#F8766D"/><circle cx="275.2" cy="612.0" r="2.15" fill="#F8766D"/><circle cx="271.0" cy="616.0" r="2.15" fill="#00BFC4"/><circle cx="274.7" cy="619.9" r="2.15" fill="#00BFC4"/><circle cx="268.5" cy="622.0" r="2.15" fill="#00BFC4"/><circle cx="271.5" cy="622.3" r="2.15" fill="#00BFC4"/><circle cx="217.6" cy="616.6" r="2.15" fill="#00BFC4"/><circle cx="201.5" cy="618.3" r="2.15" fill="#00BFC4"/><circle cx="213.8" cy="620.6" r="2.15" fill="#00BFC4"/><circle cx="194.8" cy="623.7" r="2.15" fill="#00BFC4"/><circle cx="238.9" cy="620.9" r="2.15" fill="#00BFC4"/><circle cx="228.1" cy="623.1" r="2.15" fill="#F8766D"/><circle cx="242.8" cy="628.2" r="2.15" fill="#00BFC4"/><circle cx="236.0" cy="629.1" r="2.15" fill="#F8766D"/><circle cx="274.3" cy="629.7" r="2.15" fill="#00BFC4"/><circle cx="266.7" cy="632.0" r="2.15" fill="#F8766D"/><circle cx="237.3" cy="635.0" r="2.15" fill="#F8766D"/><circle cx="246.6" cy="633.8" r="2.15" fill="#F8766D"/><circle cx="251.2" cy="633.4" r="2.15" fill="#00BFC4"/><circle cx="258.6" cy="635.9" r="2.15" fill="#F8766D"/><circle cx="259.0" cy="639.9" r="2.15" fill="#00BFC4"/><circle cx="279.2" cy="638.2" r="2.15" fill="#00BFC4"/><circle cx="274.1" cy="640.2" r="2.15" fill="#F8766D"/><circle cx="250.8" cy="641.0" r="2.15" fill="#F8766D"/><circle cx="253.1" cy="643.3" r="2.15" fill="#F8766D"/><circle cx="227.8" cy="643.5" r="2.15" fill="#F8766D"/><circle cx="236.1" cy="642.5" r="2.15" fill="#F8766D"/><circle cx="240.0" cy="643.9" r="2.15" fill="#00BFC4"/><circle cx="246.8" cy="644.9" r="2.15" fill="#00BFC4"/><circle cx="279.4" cy="645.9" r="2.15" fill="#00BFC4"/><circle cx="271.8" cy="646.8" r="2.15" fill="#00BFC4"/><circle cx="259.1" cy="647.9" r="2.15" fill="#00BFC4"/><circle cx="248.0" cy="648.6" r="2.15" fill="#F8766D"/><circle cx="250.8" cy="651.3" r="2.15" fill="#F8766D"/><circle cx="258.1" cy="656.7" r="2.15" fill="#F8766D"/><circle cx="275.5" cy="654.8" r="2.15" fill="#F8766D"/><circle cx="269.7" cy="659.2" r="2.15" fill="#00BFC4"/><circle cx="236.0" cy="663.0" r="2.15" fill="#F8766D"/><circle cx="301.1" cy="585.9" r="2.15" fill="#F8766D"/><circle cx="284.8" cy="589.8" r="2.15" fill="#F8766D"/><circle cx="290.9" cy="589.4" r="2.15" fill="#F8766D"/><circle cx="301.1" cy="590.7" r="2.15" fill="#00BFC4"/><circle cx="293.9" cy="595.6" r="2.15" fill="#F8766D"/><circle cx="318.6" cy="601.2" r="2.15" fill="#00BFC4"/><circle cx="295.3" cy="603.0" r="2.15" fill="#F8766D"/><circle cx="298.7" cy="605.1" r="2.15" fill="#F8766D"/><circle cx="305.2" cy="613.5" r="2.15" fill="#F8766D"/><circle cx="312.8" cy="614.6" r="2.15" fill="#F8766D"/><circle cx="291.7" cy="620.3" r="2.15" fill="#F8766D"/><circle cx="293.0" cy="623.2" r="2.15" fill="#F8766D"/><circle cx="301.5" cy="621.8" r="2.15" fill="#F8766D"/><circle cx="304.8" cy="621.1" r="2.15" fill="#F8766D"/><circle cx="294.5" cy="630.1" r="2.15" fill="#00BFC4"/><circle cx="305.6" cy="629.0" r="2.15" fill="#F8766D"/><circle cx="291.6" cy="638.7" r="2.15" fill="#00BFC4"/><circle cx="294.2" cy="639.4" r="2.15" fill="#00BFC4"/><circle cx="283.9" cy="641.9" r="2.15" fill="#00BFC4"/><circle cx="286.3" cy="641.6" r="2.15" fill="#F8766D"/><circle cx="293.2" cy="642.8" r="2.15" fill="#00BFC4"/><circle cx="297.6" cy="642.4" r="2.15" fill="#F8766D"/><circle cx="299.2" cy="642.2" r="2.15" fill="#F8766D"/><circle cx="302.0" cy="643.9" r="2.15" fill="#00BFC4"/><circle cx="316.3" cy="643.9" r="2.15" fill="#F8766D"/><circle cx="315.0" cy="648.4" r="2.15" fill="#F8766D"/><circle cx="282.0" cy="649.3" r="2.15" fill="#00BFC4"/><circle cx="283.2" cy="651.6" r="2.15" fill="#00BFC4"/><circle cx="289.0" cy="645.8" r="2.15" fill="#F8766D"/><circle cx="289.4" cy="651.0" r="2.15" fill="#F8766D"/><circle cx="291.8" cy="656.2" r="2.15" fill="#F8766D"/><circle cx="285.4" cy="659.7" r="2.15" fill="#F8766D"/><circle cx="218.6" cy="665.9" r="2.15" fill="#F8766D"/><circle cx="262.2" cy="671.7" r="2.15" fill="#F8766D"/><circle cx="264.1" cy="670.7" r="2.15" fill="#F8766D"/><circle cx="252.3" cy="676.4" r="2.15" fill="#00BFC4"/><circle cx="268.2" cy="677.5" r="2.15" fill="#F8766D"/><circle cx="256.5" cy="682.3" r="2.15" fill="#F8766D"/><circle cx="259.3" cy="681.8" r="2.15" fill="#F8766D"/><circle cx="261.1" cy="683.5" r="2.15" fill="#00BFC4"/><circle cx="261.6" cy="683.0" r="2.15" fill="#F8766D"/><circle cx="269.2" cy="682.8" r="2.15" fill="#00BFC4"/><circle cx="275.7" cy="684.2" r="2.15" fill="#F8766D"/><circle cx="251.1" cy="687.5" r="2.15" fill="#F8766D"/><circle cx="258.1" cy="691.1" r="2.15" fill="#F8766D"/><circle cx="266.7" cy="693.4" r="2.15" fill="#F8766D"/><circle cx="270.6" cy="696.5" r="2.15" fill="#00BFC4"/><circle cx="277.8" cy="690.2" r="2.15" fill="#F8766D"/><circle cx="284.2" cy="670.8" r="2.15" fill="#F8766D"/><circle cx="824.2" cy="424.2" r="2.15" fill="#00BFC4"/></g>
<text x="850.7" y="355.9" font-size="26.3" fill="#000">pbmc6k</text>
<text x="772.6" y="417.8" font-size="26.3" fill="#000">pbmc8k</text>
<rect x="138.7" y="86.9" width="936.3" height="637.8" fill="none" stroke="#333" stroke-width="2.2"/>
<g stroke="#333" stroke-width="4.4">
<line x1="330.6" y1="725.4" x2="330.6" y2="737.4"/>
<line x1="529.1" y1="725.4" x2="529.1" y2="737.4"/>
<line x1="727.6" y1="725.4" x2="727.6" y2="737.4"/>
<line x1="926.2" y1="725.4" x2="926.2" y2="737.4"/>
<line x1="125.6" y1="227.3" x2="137.6" y2="227.3"/>
<line x1="125.6" y1="395.6" x2="137.6" y2="395.6"/>
<line x1="125.6" y1="563.9" x2="137.6" y2="563.9"/>
</g>
<g class="tk" text-anchor="middle">
<text transform="translate(330.1,775.2) scale(0.975,1.03)">-5.0</text>
<text transform="translate(528.6,775.2) scale(0.975,1.03)">-2.5</text>
<text transform="translate(727.1,775.2) scale(0.975,1.03)">0.0</text>
<text transform="translate(925.7,775.2) scale(0.975,1.03)">2.5</text>
</g>
<g class="tk" text-anchor="end">
<text transform="translate(116.6,240.8) scale(1,1.025)">2</text>
<text transform="translate(116.6,410.2) scale(1,1.025)">0</text>
<text transform="translate(116.6,578.3) scale(1,1.025)">-2</text>
</g>
<clipPath id="k1" clipPathUnits="userSpaceOnUse"><path clip-rule="evenodd" d="M0,0H1400V865H0Z M768.5,825.6H777.7V831.5H768.5Z M782.3,825.6H791V831.5H782.3Z"/></clipPath><g clip-path="url(#k1)"><text transform="translate(607,830) scale(1,1.044)" font-size="48" text-anchor="middle" fill="#000">UMAP<tspan dy="-3.2">_</tspan><tspan dy="3.2">LIMMA</tspan><tspan dy="-3.2">_</tspan><tspan dy="3.2">1</tspan></text></g>
<text transform="translate(59,404.5) rotate(-90) scale(1,1.044)" font-size="48" text-anchor="middle" fill="#000">UMAP<tspan dy="-3.2">_</tspan><tspan dy="3.2">LIMMA</tspan><tspan dy="-3.2">_</tspan><tspan dy="3.2">2</tspan></text>
<circle cx="1170.6" cy="417.5" r="7.4" fill="#F8766D"/>
<circle cx="1170.6" cy="463.6" r="7.4" fill="#00BFC4"/>
<text x="1218" y="431.8" font-size="38.5" fill="#000">pbmc6k</text>
<text x="1218" y="477.9" font-size="38.5" fill="#000">pbmc8k</text>
</svg>
</body></html>
